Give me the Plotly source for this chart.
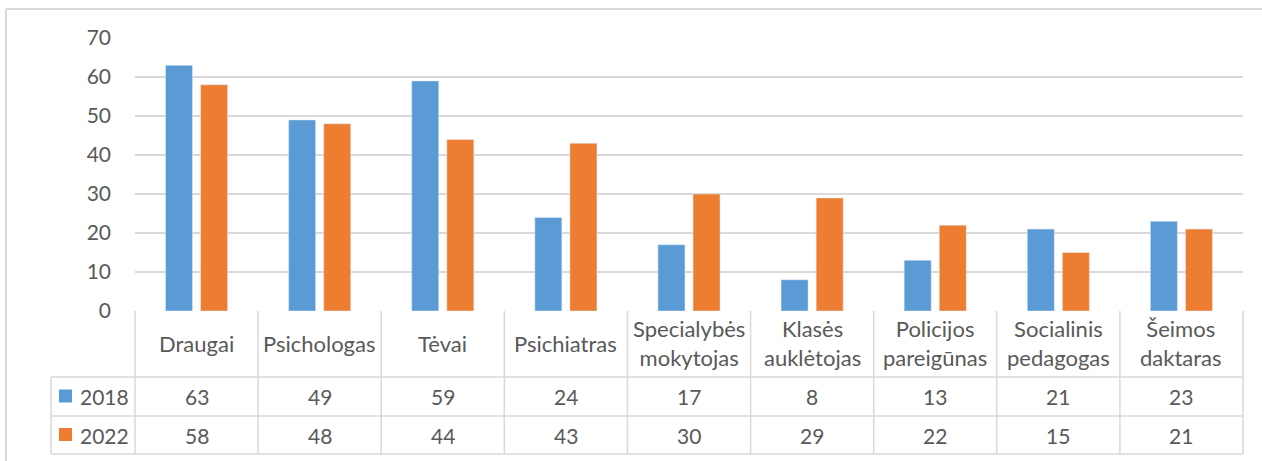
import plotly.graph_objects as go

categories = ["Draugai", "Psichologas", "Tėvai", "Psichiatras", "Specialybės mokytojas",
              "Klasės auklėtojas", "Policijos pareigūnas", "Socialinis pedagogas", "Šeimos daktaras"]
header_labels = ["Draugai", "Psichologas", "Tėvai", "Psichiatras", "Specialybės<br>mokytojas",
                 "Klasės<br>auklėtojas", "Policijos<br>pareigūnas", "Socialinis<br>pedagogas", "Šeimos<br>daktaras"]
series_names = ["2018", "2022"]
values_2018 = [63, 49, 59, 24, 17, 8, 13, 21, 23]
values_2022 = [58, 48, 44, 43, 30, 29, 22, 15, 21]
y_ticks = [0, 10, 20, 30, 40, 50, 60, 70]

BLUE = "#5b9bd5"
ORANGE = "#ed7d31"
GRID = "#d9d9d9"
TXT = "#595959"
FONT = "Lato"
W, H = 1262, 461
ML, MR, MT, MB = 135, 19, 38, 150
PW = W - ML - MR
PH = H - MT - MB


def px_x(px):
    return (px - ML) / PW


def px_y(py):
    return (H - MB - py) / PH


fig = go.Figure()
fig.add_trace(go.Bar(x=categories, y=values_2018, name=series_names[0], marker_color=BLUE))
fig.add_trace(go.Bar(x=categories, y=values_2022, name=series_names[1], marker_color=ORANGE))

shapes = []
annotations = []
n = len(categories)
y_row1 = px_y(377)
y_row2 = px_y(416)
y_row3 = px_y(454)
x_left = px_x(51)
line = dict(color=GRID, width=1.5)

for i in range(n + 1):
    shapes.append(dict(type="line", xref="paper", yref="paper", x0=i / n, x1=i / n,
                       y0=0, y1=y_row3, line=line))
shapes.append(dict(type="line", xref="paper", yref="paper", x0=x_left, x1=x_left,
                   y0=y_row1, y1=y_row3, line=line))
for yy in [y_row1, y_row2, y_row3]:
    shapes.append(dict(type="line", xref="paper", yref="paper", x0=x_left, x1=1,
                       y0=yy, y1=yy, line=line))
shapes.append(dict(type="line", xref="paper", yref="paper", x0=px_x(6), x1=px_x(1300),
                   y0=px_y(9), y1=px_y(9), line=dict(color=GRID, width=2)))
shapes.append(dict(type="line", xref="paper", yref="paper", x0=px_x(6), x1=px_x(6),
                   y0=px_y(9), y1=px_y(500), line=dict(color=GRID, width=2)))

for color, yc in [(BLUE, px_y(396)), (ORANGE, px_y(434.5))]:
    shapes.append(dict(type="rect", xref="paper", yref="paper", x0=px_x(59), x1=px_x(72),
                       y0=yc - 6.5 / PH, y1=yc + 6.5 / PH, fillcolor=color, line=dict(width=0)))

lab_font = dict(family=FONT, size=22, color=TXT)
num_font = dict(family=FONT, size=21, color=TXT)
y_head = px_y(343)
y_r1 = px_y(396.5)
y_r2 = px_y(435)
for c, lab, v1, v2 in zip(categories, header_labels, values_2018, values_2022):
    annotations.append(dict(x=c, xref="x", y=y_head, yref="paper", text=lab, showarrow=False,
                            font=lab_font, xanchor="center", yanchor="middle"))
    annotations.append(dict(x=c, xref="x", y=y_r1, yref="paper", text=str(v1), showarrow=False,
                            font=num_font, xanchor="center", yanchor="middle"))
    annotations.append(dict(x=c, xref="x", y=y_r2, yref="paper", text=str(v2), showarrow=False,
                            font=num_font, xanchor="center", yanchor="middle"))
for name, yy in zip(series_names, [y_r1, y_r2]):
    annotations.append(dict(x=px_x(78), xref="paper", y=yy, yref="paper", text=name, showarrow=False,
                            font=num_font, xanchor="left", yanchor="middle"))

fig.update_layout(
    width=W, height=H,
    margin=dict(l=ML, r=MR, t=MT, b=MB),
    paper_bgcolor="white", plot_bgcolor="white",
    barmode="group", bargap=0.43, bargroupgap=0.23,
    showlegend=False,
    font=dict(family=FONT, color=TXT),
    xaxis=dict(showticklabels=False, showgrid=False, zeroline=False, showline=False, ticks=""),
    yaxis=dict(range=[0, 70], tickvals=y_ticks, showgrid=True, gridcolor=GRID, gridwidth=1.5,
               zeroline=False, showline=False, ticks="", ticklabelstandoff=23,
               tickfont=num_font),
    shapes=shapes, annotations=annotations,
)

fig.write_html("out.html", config={"displayModeBar": False},
               post_script="document.body.style.margin='0';")
